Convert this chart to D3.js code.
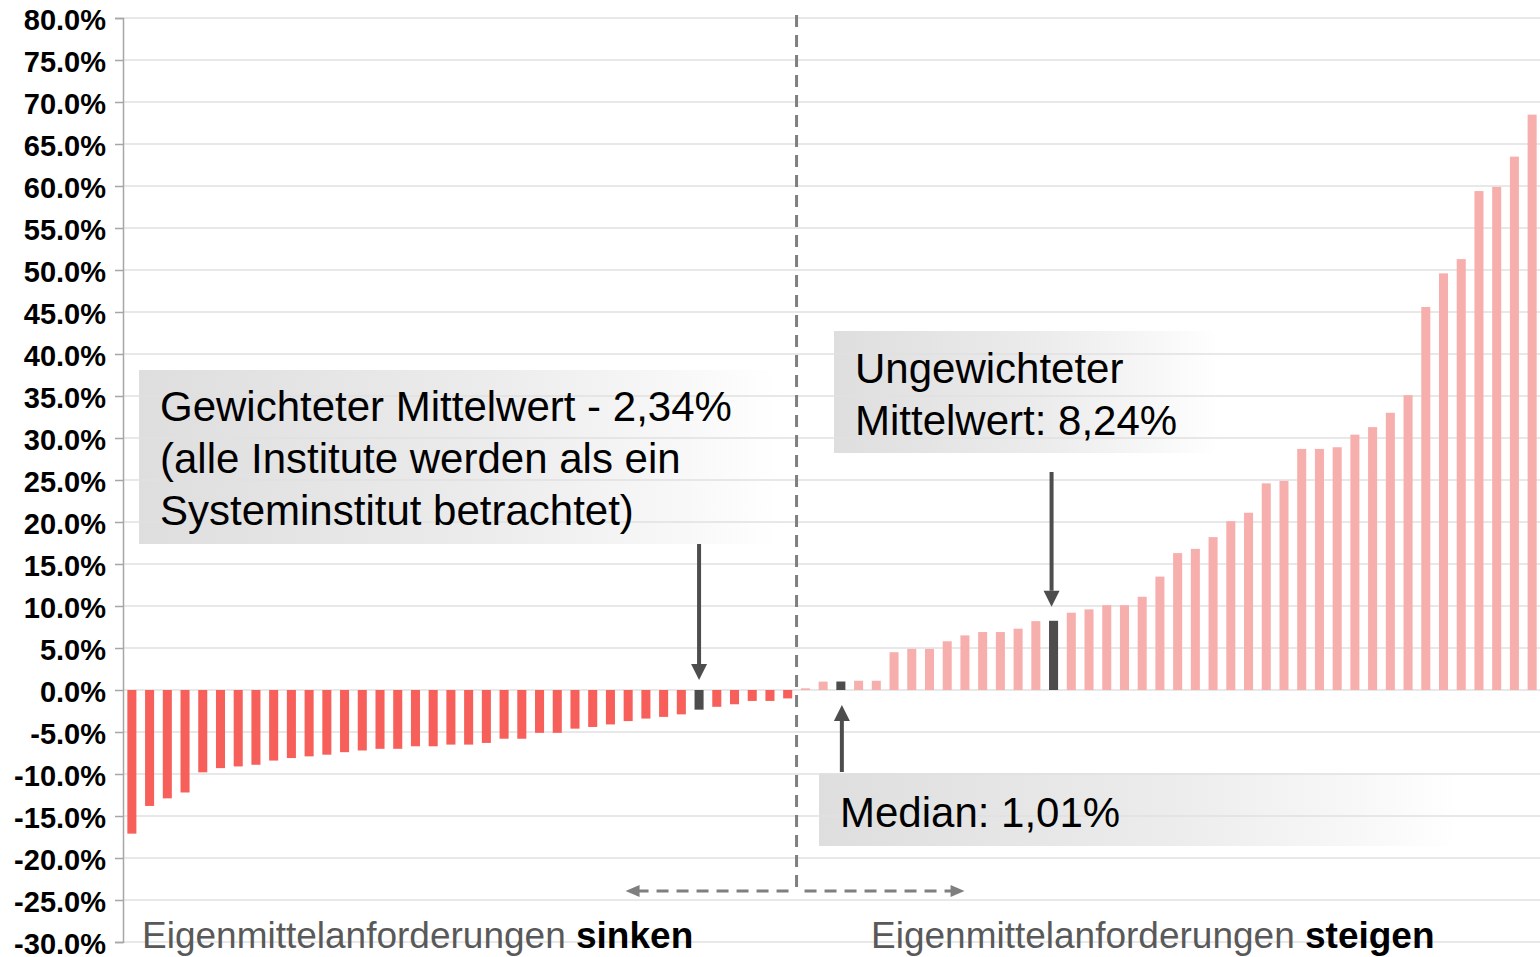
<!DOCTYPE html>
<html lang="de">
<head>
    <meta charset="UTF-8" />
    <title>Eigenmittelanforderungen</title>
    <script src="https://d3js.org/d3.v7.min.js"></script>
    <style>
        body { margin: 0; background: #fff; }
        svg { display: block; }
    </style>
</head>
<body>
    <script>
        // Veränderung der Eigenmittelanforderungen je Institut (in %), sortiert
        var negValues = [-17.1, -13.8, -12.9, -12.2, -9.8, -9.3, -9.1, -8.9, -8.4, -8.1,
            -7.9, -7.7, -7.4, -7.2, -7.0, -7.0, -6.7, -6.7, -6.5, -6.5,
            -6.3, -5.8, -5.8, -5.1, -5.1, -4.6, -4.4, -4.1, -3.7, -3.4,
            -3.2, -2.9, -2.34, -2.0, -1.7, -1.3, -1.3, -1.0];
        var posValues = [0.2, 1.0, 1.01, 1.1, 1.1, 4.5, 4.9, 4.9, 5.8, 6.5,
            6.9, 6.9, 7.3, 8.2, 8.24, 9.2, 9.6, 10.1, 10.1, 11.1,
            13.5, 16.3, 16.8, 18.2, 20.1, 21.1, 24.6, 24.9, 28.7, 28.7,
            28.9, 30.4, 31.3, 33.0, 35.1, 45.6, 49.6, 51.3, 59.4, 59.9,
            63.5, 68.5];
        var values = negValues.concat(posValues);

        // hervorgehobene Balken (Index in values)
        var weightedMeanIdx = 32;   // -2,34%
        var medianIdx = 40;         // 1,01%
        var meanIdx = 52;           // 8,24%

        var yTicks = [-30, -25, -20, -15, -10, -5, 0, 5, 10, 15, 20, 25, 30, 35, 40, 45, 50, 55, 60, 65, 70, 75, 80];

        var w = 1540;
        var h = 957;
        var font = "'Liberation Sans', Arial, sans-serif";

        var xScale = d3.scaleBand()
            .domain(d3.range(values.length))
            .range([123, 1541])
            .paddingInner(0.49)
            .paddingOuter(0.245);

        var yScale = d3.scaleLinear()
            .domain([-30, 80])
            .range([942, 18]);

        var svg = d3.select("body")
            .append("svg")
            .attr("width", w)
            .attr("height", h);

        var defs = svg.append("defs");
        var grad = defs.append("linearGradient").attr("id", "boxGrad");
        grad.append("stop").attr("offset", "0%").attr("stop-color", "#dedede");
        grad.append("stop").attr("offset", "55%").attr("stop-color", "#ececec");
        grad.append("stop").attr("offset", "85%").attr("stop-color", "#f8f8f8");
        grad.append("stop").attr("offset", "100%").attr("stop-color", "#ffffff");

        // Annotation boxes (behind grid)
        var boxes = [
            { x: 139, y: 370, w: 640, h: 174 },
            { x: 834, y: 331, w: 385, h: 122 },
            { x: 819, y: 773, w: 640, h: 73 }
        ];
        svg.selectAll("rect.box")
            .data(boxes)
            .enter()
            .append("rect")
            .attr("class", "box")
            .attr("x", function (d) { return d.x; })
            .attr("y", function (d) { return d.y; })
            .attr("width", function (d) { return d.w; })
            .attr("height", function (d) { return d.h; })
            .attr("fill", "url(#boxGrad)");

        // gridlines
        svg.append("g")
            .selectAll("line")
            .data(yTicks)
            .enter()
            .append("line")
            .attr("x1", 123)
            .attr("x2", w)
            .attr("y1", function (d) { return yScale(d); })
            .attr("y2", function (d) { return yScale(d); })
            .attr("stroke", "#e0e0e0")
            .attr("stroke-width", 1.5);

        // bars
        svg.append("g")
            .selectAll("rect")
            .data(values)
            .enter()
            .append("rect")
            .attr("x", function (d, i) { return xScale(i); })
            .attr("width", xScale.bandwidth())
            .attr("y", function (d) { return yScale(Math.max(0, d)); })
            .attr("height", function (d) { return Math.abs(yScale(d) - yScale(0)); })
            .attr("fill", function (d, i) {
                if (i === weightedMeanIdx || i === medianIdx || i === meanIdx) {
                    return "#4d4d4d";
                }
                return d < 0 ? "#f65f5a" : "#f7afad";
            });

        // y axis (plain hyphen for negatives, like the original)
        var yAxis = d3.axisLeft(yScale)
            .tickValues(yTicks)
            .tickSize(8)
            .tickPadding(9)
            .tickFormat(function (d) { return d.toFixed(1) + "%"; });

        var gy = svg.append("g")
            .attr("transform", "translate(123,0)")
            .call(yAxis);
        gy.select(".domain").attr("stroke", "#a6a6a6").attr("stroke-width", 1.5);
        gy.selectAll(".tick line").attr("stroke", "#a6a6a6").attr("stroke-width", 1.5);
        gy.selectAll(".tick text")
            .attr("dy", "0.4em")
            .style("font-family", font)
            .style("font-size", "29px")
            .style("font-weight", "bold")
            .style("fill", "#000");

        // divider between sinken / steigen
        var divX = xScale(negValues.length) - (xScale.step() - xScale.bandwidth()) / 2;
        var dashY = 891;
        svg.append("line")
            .attr("x1", divX).attr("x2", divX)
            .attr("y1", 15).attr("y2", dashY)
            .attr("stroke", "#7f7f7f")
            .attr("stroke-width", 3)
            .attr("stroke-dasharray", "12,8");

        var leftEnd = divX - 171;
        var rightEnd = divX + 168;
        svg.append("line")
            .attr("x1", divX - 8).attr("x2", leftEnd + 12)
            .attr("y1", dashY).attr("y2", dashY)
            .attr("stroke", "#7f7f7f")
            .attr("stroke-width", 3)
            .attr("stroke-dasharray", "12,8");
        svg.append("line")
            .attr("x1", divX + 8).attr("x2", rightEnd - 12)
            .attr("y1", dashY).attr("y2", dashY)
            .attr("stroke", "#7f7f7f")
            .attr("stroke-width", 3)
            .attr("stroke-dasharray", "12,8");
        svg.append("path")
            .attr("d", "M" + leftEnd + "," + dashY + "L" + (leftEnd + 14) + "," + (dashY - 6) + "L" + (leftEnd + 14) + "," + (dashY + 6) + "Z")
            .attr("fill", "#7f7f7f");
        svg.append("path")
            .attr("d", "M" + rightEnd + "," + dashY + "L" + (rightEnd - 14) + "," + (dashY - 6) + "L" + (rightEnd - 14) + "," + (dashY + 6) + "Z")
            .attr("fill", "#7f7f7f");

        // annotation arrows
        function arrow(x, yFrom, yTo) {
            var dir = yTo > yFrom ? 1 : -1;
            var headLen = 16;
            svg.append("line")
                .attr("x1", x).attr("x2", x)
                .attr("y1", yFrom).attr("y2", yTo - dir * headLen)
                .attr("stroke", "#4d4d4d")
                .attr("stroke-width", 4);
            svg.append("path")
                .attr("d", "M" + x + "," + yTo + "L" + (x - 8) + "," + (yTo - dir * headLen) + "L" + (x + 8) + "," + (yTo - dir * headLen) + "Z")
                .attr("fill", "#4d4d4d");
        }
        var cx = function (i) { return xScale(i) + xScale.bandwidth() / 2; };
        arrow(cx(weightedMeanIdx), 544, yScale(0) - 10);
        arrow(cx(meanIdx) - 2, 472, yScale(values[meanIdx]) - 14);
        arrow(cx(medianIdx) + 1, 772, yScale(0) + 15);

        // annotation texts
        var labels = [
            { x: 160, y: 421, t: "Gewichteter Mittelwert - 2,34%" },
            { x: 160, y: 473, t: "(alle Institute werden als ein" },
            { x: 160, y: 525, t: "Systeminstitut betrachtet)" },
            { x: 855, y: 383, t: "Ungewichteter" },
            { x: 855, y: 435, t: "Mittelwert: 8,24%" },
            { x: 840, y: 827, t: "Median: 1,01%" }
        ];
        svg.selectAll("text.note")
            .data(labels)
            .enter()
            .append("text")
            .attr("class", "note")
            .attr("x", function (d) { return d.x; })
            .attr("y", function (d) { return d.y; })
            .attr("font-family", font)
            .attr("font-size", "42px")
            .attr("fill", "#000")
            .text(function (d) { return d.t; });

        // bottom captions
        var captions = [
            { x: 142, normal: "Eigenmittelanforderungen ", bold: "sinken" },
            { x: 871, normal: "Eigenmittelanforderungen ", bold: "steigen" }
        ];
        captions.forEach(function (c) {
            var t = svg.append("text")
                .attr("x", c.x)
                .attr("y", 948)
                .attr("font-family", font)
                .attr("font-size", "37px");
            t.append("tspan").attr("fill", "#595959").text(c.normal);
            t.append("tspan").attr("fill", "#000").attr("font-weight", "bold").text(c.bold);
        });
    </script>
</body>
</html>
